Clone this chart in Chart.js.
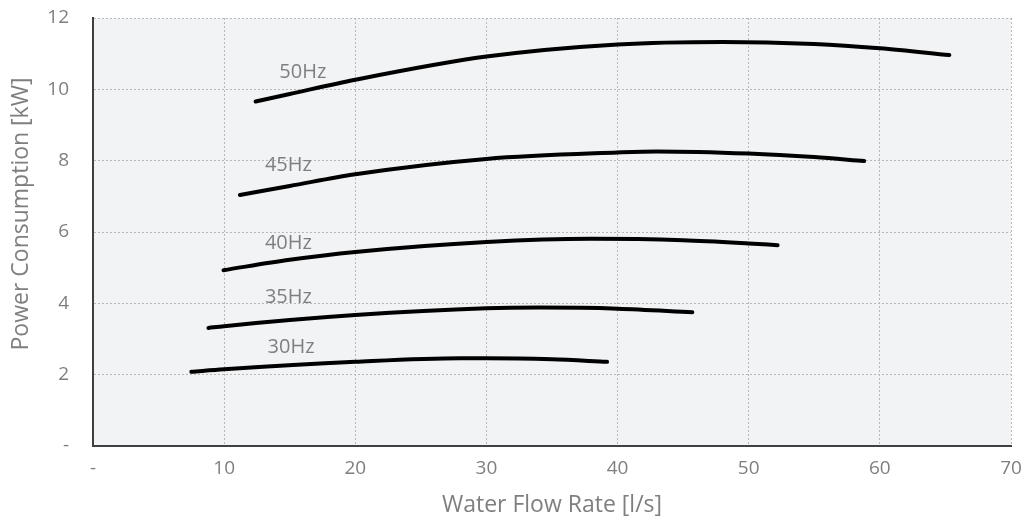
<!DOCTYPE html>
<html>
<head>
<meta charset="utf-8">
<script src="https://cdn.jsdelivr.net/npm/chart.js@4/dist/chart.umd.min.js"></script>
<style>
  html, body { margin: 0; padding: 0; background: #ffffff; }
  #wrap { width: 1027px; height: 521px; }
</style>
</head>
<body>
<div id="wrap"><canvas id="myChart" width="1027" height="521"></canvas></div>
<script>
// curvas de potencia por frequencia (vazao l/s, potencia kW)
const flow50 = [12.4, 15, 20, 30, 40, 48, 55, 60, 65.3];
const power50 = [9.66, 9.87, 10.27, 10.92, 11.26, 11.33, 11.27, 11.15, 10.96];

const flow45 = [11.2, 15, 20, 30, 40, 43, 50, 55, 58.8];
const power45 = [7.04, 7.29, 7.62, 8.05, 8.23, 8.26, 8.2, 8.1, 7.99];

const flow40 = [9.95, 15, 20, 30, 38, 45, 50, 52.2];
const power40 = [4.93, 5.22, 5.44, 5.72, 5.81, 5.77, 5.68, 5.63];

const flow35 = [8.8, 10, 20, 30, 34, 40, 45.7];
const power35 = [3.31, 3.36, 3.67, 3.86, 3.88, 3.85, 3.75];

const flow30 = [7.5, 10, 20, 28, 30, 35, 39.2];
const power30 = [2.08, 2.15, 2.36, 2.46, 2.46, 2.43, 2.36];

// rotulos das curvas
const hzLabels = ['50Hz', '45Hz', '40Hz', '35Hz', '30Hz'];
const labelFlow = [16.0, 14.9, 14.9, 14.9, 15.1];
const labelPower = [10.48, 7.87, 5.69, 4.17, 2.77];

const xTicks = [0, 10, 20, 30, 40, 50, 60, 70];
const yTicks = [0, 2, 4, 6, 8, 10, 12];

const FONT = "'Open Sans', sans-serif";
const GREY = '#7f7f7f';

const toPoints = (xs, ys) => xs.map((x, i) => ({ x: x, y: ys[i] }));

const series = [
    toPoints(flow50, power50),
    toPoints(flow45, power45),
    toPoints(flow40, power40),
    toPoints(flow35, power35),
    toPoints(flow30, power30)
];

const data = {
    datasets: series.map((pts, i) => ({
        label: hzLabels[i],
        data: pts,
        borderColor: '#000000',
        borderWidth: 4,
        borderCapStyle: 'round',
        pointRadius: 0,
        cubicInterpolationMode: 'monotone',
        fill: false
    }))
};

// fundo cinza da area do grafico
const plotBg = {
    id: 'plotBg',
    beforeDraw(chart) {
        const { ctx, chartArea: a } = chart;
        ctx.save();
        ctx.fillStyle = '#f2f3f5';
        ctx.fillRect(a.left, a.top, a.right - a.left, a.bottom - a.top);
        ctx.restore();
    }
};

// textos 50Hz, 45Hz ... e titulo do eixo Y (fica um pouco acima do centro)
const curveLabels = {
    id: 'curveLabels',
    afterDatasetsDraw(chart) {
        const { ctx, scales } = chart;
        ctx.save();
        ctx.font = '20px ' + FONT;
        ctx.fillStyle = GREY;
        ctx.textAlign = 'center';
        ctx.textBaseline = 'middle';
        hzLabels.forEach((t, i) => {
            ctx.fillText(t, scales.x.getPixelForValue(labelFlow[i]), scales.y.getPixelForValue(labelPower[i]));
        });
        ctx.translate(21, 214);
        ctx.rotate(-Math.PI / 2);
        ctx.font = '23px ' + FONT;
        ctx.fillText('Power Consumption [kW]', 0, 0);
        ctx.restore();
    }
};

const config = {
    type: 'line',
    data: data,
    options: {
        responsive: false,
        animation: false,
        layout: { padding: { top: 18, right: 16, left: 0, bottom: 0 } },
        scales: {
            x: {
                type: 'linear',
                min: 0,
                max: 70,
                afterBuildTicks: s => { s.ticks = xTicks.map(v => ({ value: v })); },
                afterFit: s => { s.height = 75; s.paddingRight = 0; s.paddingLeft = 0; },
                ticks: {
                    color: GREY,
                    font: { family: FONT, size: 19 },
                    padding: 11,
                    maxRotation: 0,
                    callback: v => v === 0 ? '-' : v
                },
                grid: {
                    color: '#b8b8b8',
                    lineWidth: 1,
                    drawTicks: false
                },
                // no v4 o tracejado da grade fica em border.dash
                border: { display: true, color: '#404040', width: 2, dash: [2, 2] },
                title: {
                    display: true,
                    text: 'Water Flow Rate [l/s]',
                    color: GREY,
                    font: { family: FONT, size: 23 },
                    padding: { top: 4, bottom: 2 }
                }
            },
            y: {
                type: 'linear',
                min: 0,
                max: 12,
                afterBuildTicks: s => { s.ticks = yTicks.map(v => ({ value: v })); },
                afterFit: s => { s.width = 93; s.paddingTop = 0; s.paddingBottom = 0; },
                ticks: {
                    color: GREY,
                    font: { family: FONT, size: 19 },
                    padding: 24,
                    callback: v => v === 0 ? '-' : v
                },
                grid: {
                    color: '#b8b8b8',
                    lineWidth: 1,
                    drawTicks: false
                },
                border: { display: true, color: '#404040', width: 2, dash: [2, 2] },
                title: { display: false }
            }
        },
        plugins: {
            legend: { display: false },
            tooltip: { enabled: false }
        }
    },
    plugins: [plotBg, curveLabels]
};

const myChart = new Chart(
    document.getElementById('myChart'),
    config
);
</script>
</body>
</html>
